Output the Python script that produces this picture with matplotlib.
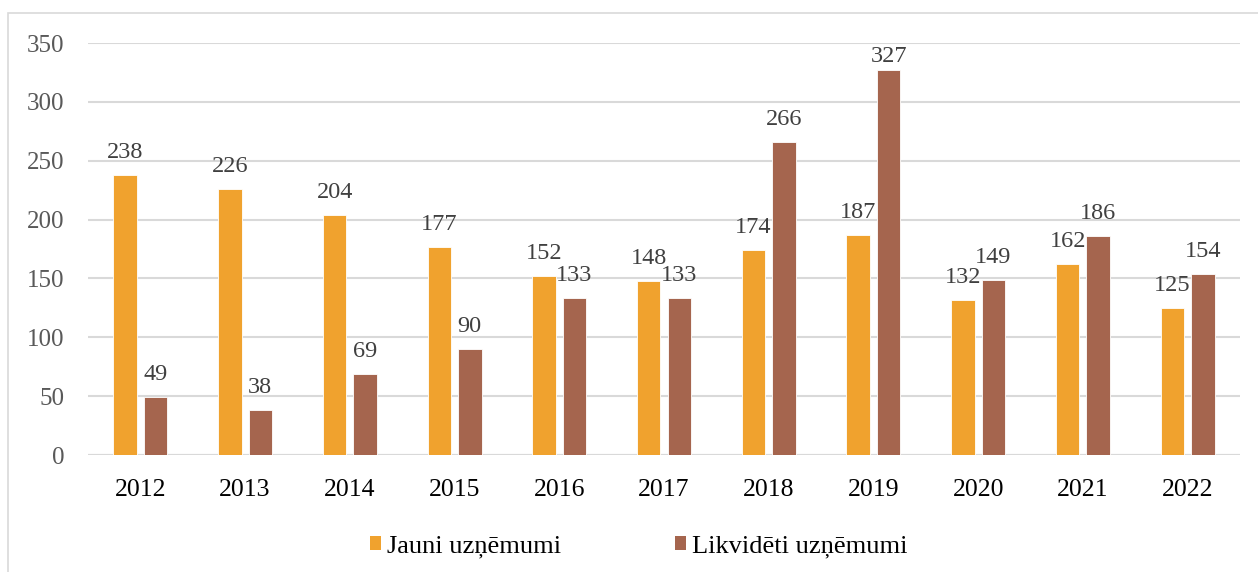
import matplotlib
matplotlib.use("Agg")
import matplotlib.pyplot as plt
from matplotlib.patches import Rectangle, Patch
import numpy as np

years = ["2012", "2013", "2014", "2015", "2016", "2017", "2018", "2019", "2020", "2021", "2022"]
jauni = [238, 226, 204, 177, 152, 148, 174, 187, 132, 162, 125]
likvideti = [49, 38, 69, 90, 133, 133, 266, 327, 149, 186, 154]
series_names = ["Jauni uzņēmumi", "Likvidēti uzņēmumi"]
colors = ["#F0A22E", "#A5654E"]

plt.rcParams['font.family'] = ['Liberation Serif', 'DejaVu Serif']

W, H = 1258, 572
fig = plt.figure(figsize=(W / 100, H / 100), dpi=100)
ax = fig.add_axes([88 / W, 1 - 455 / H, (1240 - 88) / W, (455 - 43) / H])

ymax = 350
x = np.arange(len(years))
bw = 0.224
gap = 0.067
off = (bw + gap) / 2
b1 = ax.bar(x - off, jauni, bw, color=colors[0], edgecolor="white", linewidth=0.6, zorder=3)
b2 = ax.bar(x + off, likvideti, bw, color=colors[1], edgecolor="white", linewidth=0.6, zorder=3)

# label baseline ~17 px above bar top, clamped to stay inside the plot area
px_per_unit = (455 - 43) / ymax
lift = 17 / px_per_unit
cap = ymax - 19 / px_per_unit
for bars, vals in ((b1, jauni), (b2, likvideti)):
    for rect, v in zip(bars, vals):
        ax.text(rect.get_x() + rect.get_width() / 2, min(v + lift, cap), str(v),
                ha="center", va="baseline", fontsize=17.5, color="#404040", zorder=4)

ax.set_xlim(-0.5, len(years) - 0.5)
ax.set_ylim(0, ymax)
ax.set_yticks(range(0, ymax + 1, 50))
ax.set_xticks(x)
ax.set_xticklabels(years)
ax.tick_params(axis="both", length=0)
ax.tick_params(axis="y", pad=17, labelsize=18, colors="#595959")
ax.tick_params(axis="x", pad=17, labelsize=18.5, colors="#000000")
ax.grid(axis="y", color="#D9D9D9", linewidth=1.5, zorder=0)
for s in ax.spines.values():
    s.set_visible(False)
ax.axhline(0, color="#D9D9D9", linewidth=1.5, zorder=2)

handles = [Patch(facecolor=c, edgecolor="none") for c in colors]
fig.legend(handles, series_names, loc="center", bbox_to_anchor=(639 / W, 1 - 547 / H),
           ncol=2, frameon=False, fontsize=19, handlelength=0.42, handleheight=0.42,
           handletextpad=0.23, columnspacing=4.3, labelcolor="#000000", borderpad=0)

fig.add_artist(Rectangle((8 / W, -0.02), 1.05, 1 - 13 / H + 0.02, transform=fig.transFigure,
                         fill=False, edgecolor="#D9D9D9", linewidth=1.2))

fig.savefig("out.png", dpi=100)
